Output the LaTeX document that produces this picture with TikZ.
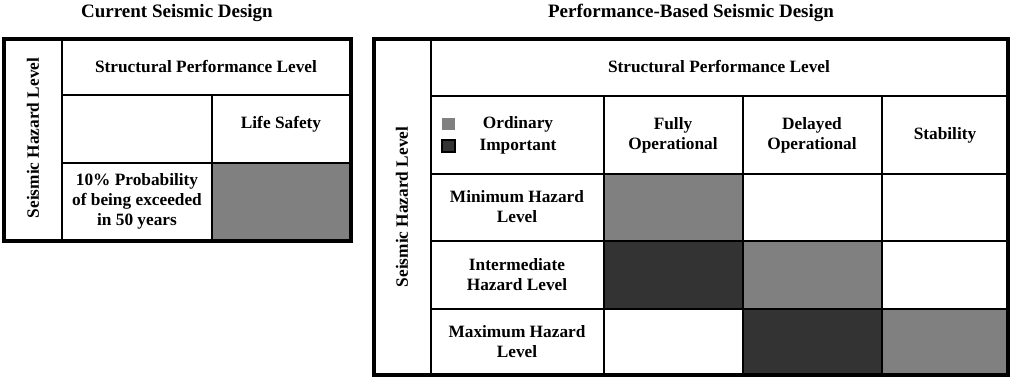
\documentclass[tikz,border=0pt]{standalone}
\usepackage{fontspec}
\setmainfont{Liberation Serif}
\usetikzlibrary{positioning}

\definecolor{ordgray}{HTML}{808080}
\definecolor{impgray}{HTML}{333333}

\begin{document}
\begin{tikzpicture}[x=0.025cm,y=-0.025cm,
	txt/.style={font=\fontsize{12.3}{14.3}\selectfont\bfseries,align=center},
	ttl/.style={font=\fontsize{13.5}{15}\selectfont\bfseries},
	thin/.style={line width=0.8pt},
	frame/.style={line width=2.8pt}]
	\useasboundingbox (0,0) rectangle (1010,378);
	% current seismic design
	\node[ttl] (curtitle) at (177,13) {Current Seismic Design};
	\fill[ordgray] (212,163) rectangle (351,241);
	\draw[thin] (62,39)--(62,241);
	\draw[thin] (62,95)--(351,95);
	\draw[thin] (62,163)--(351,163);
	\draw[thin] (212,95)--(212,241);
	\draw[frame] (4,39) rectangle (351,241);
	\node[txt,rotate=90] (curhazard) at (33,138) {Seismic Hazard Level};
	\node[txt] (curperf) at (206,67) {Structural Performance Level};
	\node[txt] (curlife) at (281,124) {Life Safety};
	\node[txt] (curprob) at (137,201) {10\% Probability\\of being exceeded\\in 50 years};
	% performance-based seismic design
	\node[ttl] (pbtitle) at (691,13) {Performance-Based Seismic Design};
	\fill[ordgray] (604,174) rectangle (743,241);
	\fill[impgray] (604,241) rectangle (743,309);
	\fill[ordgray] (743,241) rectangle (882,309);
	\fill[impgray] (743,309) rectangle (882,375);
	\fill[ordgray] (882,309) rectangle (1008,375);
	\draw[thin] (431,39)--(431,375);
	\draw[thin] (431,96)--(1008,96);
	\foreach \y in {174,241,309}
		\draw[thin] (431,\y)--(1008,\y);
	\foreach \x in {604,743,882}
		\draw[thin] (\x,96)--(\x,375);
	\draw[frame] (374,39) rectangle (1008,375);
	\node[txt,rotate=90] (pbhazard) at (402,207) {Seismic Hazard Level};
	\node[txt] (pbperf) at (719,67) {Structural Performance Level};
	\fill[ordgray] (442,118) rectangle (455,130);
	\fill[impgray,draw=black,thin] (442,140) rectangle (455,152);
	\node[txt] (pbord) at (518,124) {Ordinary};
	\node[txt] (pbimp) at (518,147) {Important};
	\node[txt] (pbfully) at (673,135) {Fully\\Operational};
	\node[txt] (pbdelayed) at (812,135) {Delayed\\Operational};
	\node[txt] (pbstab) at (945,135) {Stability};
	\node[txt] (pbmin) at (517,207) {Minimum Hazard\\Level};
	\node[txt] (pbinter) at (517,275) {Intermediate\\Hazard Level};
	\node[txt] (pbmax) at (517,342) {Maximum Hazard\\Level};
\end{tikzpicture}
\end{document}
